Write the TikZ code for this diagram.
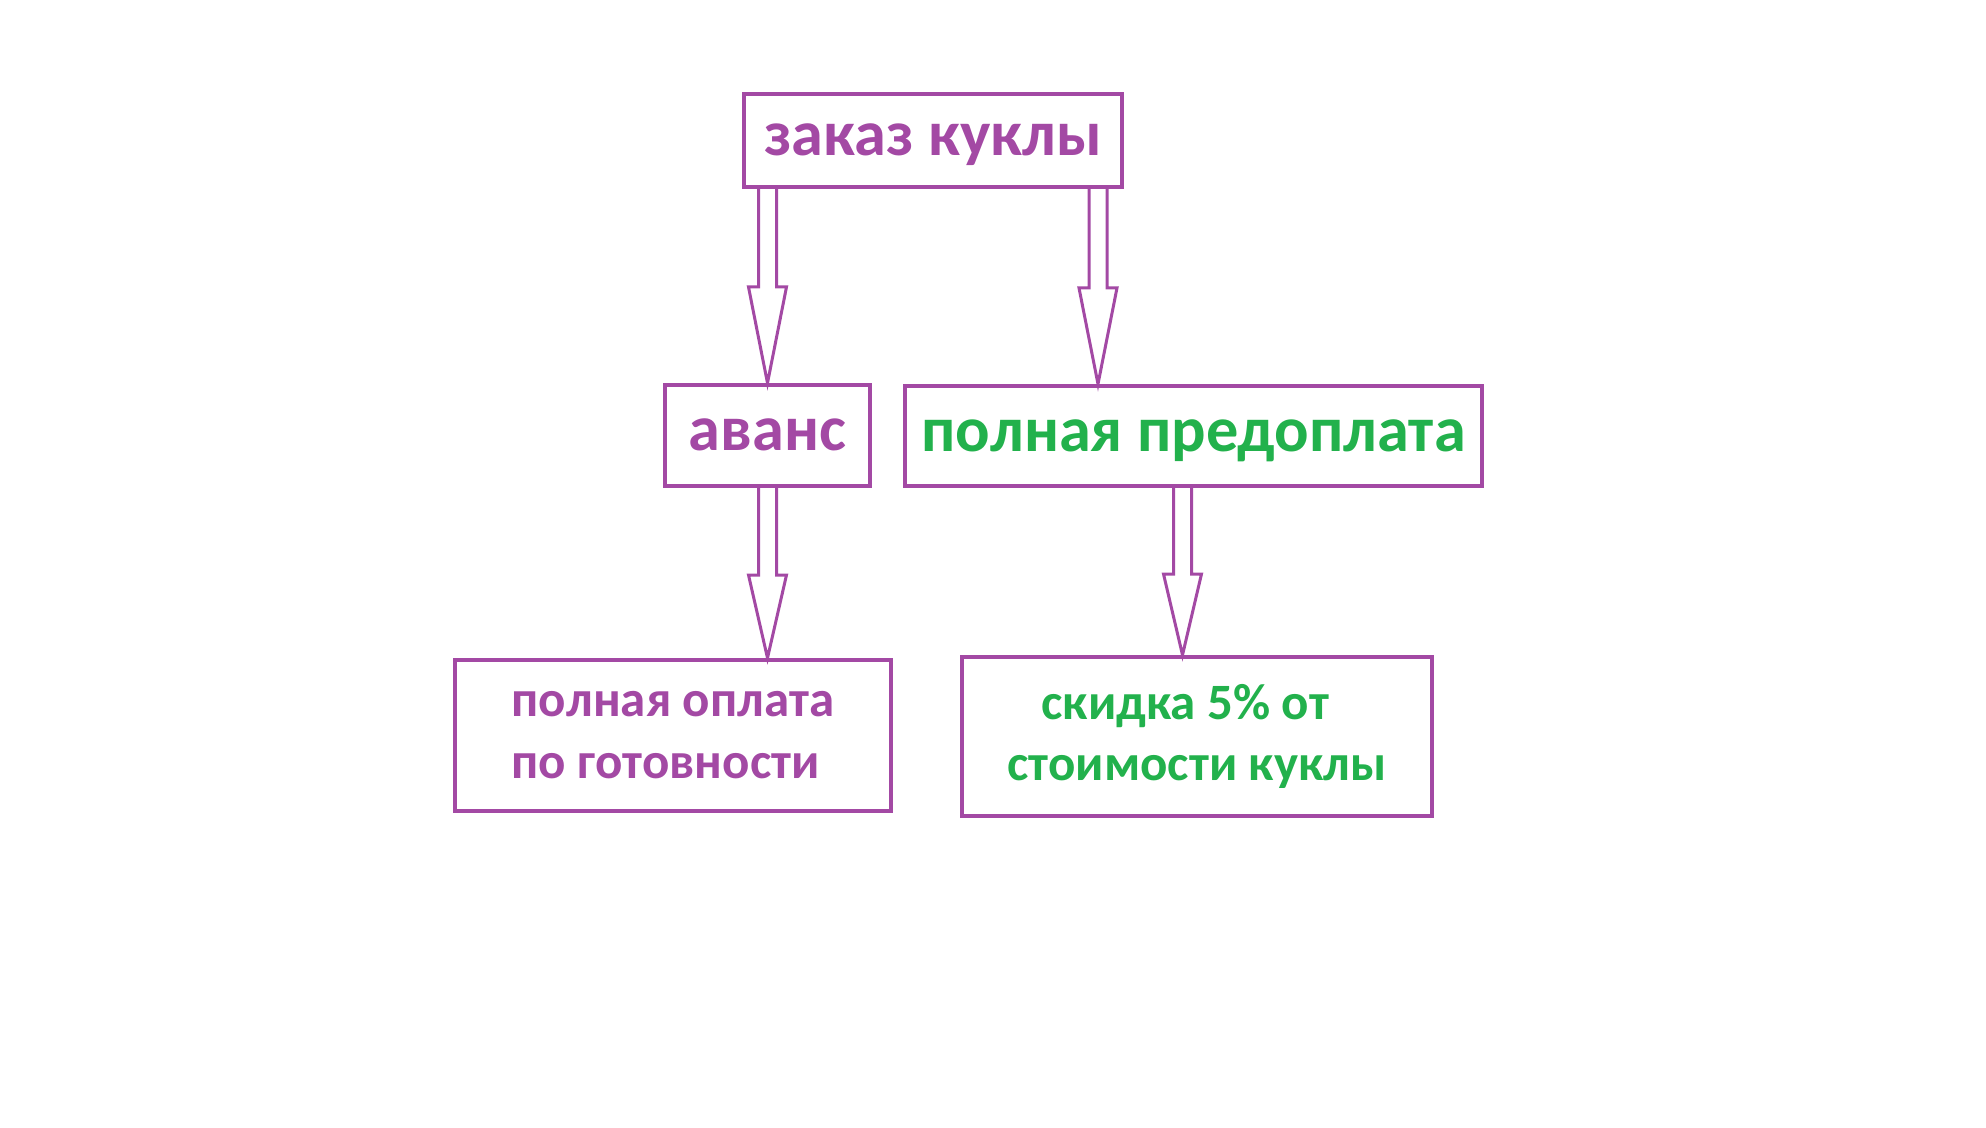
\documentclass[tikz,border=0pt]{standalone}
\usepackage{fontspec}
\setmainfont{Carlito}
\usetikzlibrary{calc}

\definecolor{lilac}{HTML}{A349A4}
\definecolor{grassgreen}{HTML}{22B14C}

\begin{document}
\begin{tikzpicture}[x=0.1mm,y=-0.1mm,
    box/.style={draw=lilac,line width=0.4mm,inner sep=0pt,
        font=\bfseries\fontsize{18.3pt}{22pt}\selectfont,
        text height=4.5mm,text depth=1.4mm},
    smallbox/.style={draw=lilac,line width=0.4mm,inner sep=0pt,
        font=\bfseries\fontsize{14.5pt}{17.6pt}\selectfont},
    hollowarrow/.style={draw=lilac,line width=0.3mm,
        to path={($(\tikztostart)+(-9,0)$) -- ($(\tikztotarget)+(-9,-#1)$)
            -- ($(\tikztotarget)+(-19,-#1)$) -- (\tikztotarget)
            -- ($(\tikztotarget)+(19,-#1)$) -- ($(\tikztotarget)+(9,-#1)$)
            -- ($(\tikztostart)+(9,0)$)}}]

    % Fix the page size (y runs downwards, like the image)
    \useasboundingbox (0,0) rectangle (1986,1128);

    % Define the boxes: the order on top, the two ways to pay below it
    \node[box,minimum width=37.8mm,minimum height=9.3mm,text=lilac] (zakaz) at (933,140.5) {заказ куклы};
    \node[box,minimum width=20.5mm,minimum height=10.1mm,text=lilac] (avans) at (767.5,435.5) {аванс};
    \node[box,minimum width=57.7mm,minimum height=10mm,text=grassgreen] (predoplata) at (1193.5,436) {полная предоплата};

    % The result of each way
    \node[smallbox,minimum width=43.6mm,minimum height=15.1mm,text=lilac,align=left] (oplata) at (673,735.5) {полная оплата\\по готовности};
    \node[smallbox,minimum width=47mm,minimum height=15.9mm,text=grassgreen,align=left] (skidka) at (1197,736.5) {\hspace*{3.4mm}скидка 5\% от\\стоимости куклы};

    % Start points of the arrows that are off the centre
    \coordinate (zakazR) at ($(zakaz.south east)+(-26,0)$);
    \coordinate (predoplataL) at ($(predoplata.south)+(-11,0)$);

    % Draw the hollow arrows
    \draw[hollowarrow=96] (avans.north |- zakaz.south) to (avans.north);
    \draw[hollowarrow=96] (zakazR) to (zakazR |- predoplata.north);
    \draw[hollowarrow=83] (avans.south) to (avans.south |- oplata.north);
    \draw[hollowarrow=81] (predoplataL) to (predoplataL |- skidka.north);

\end{tikzpicture}
\end{document}
